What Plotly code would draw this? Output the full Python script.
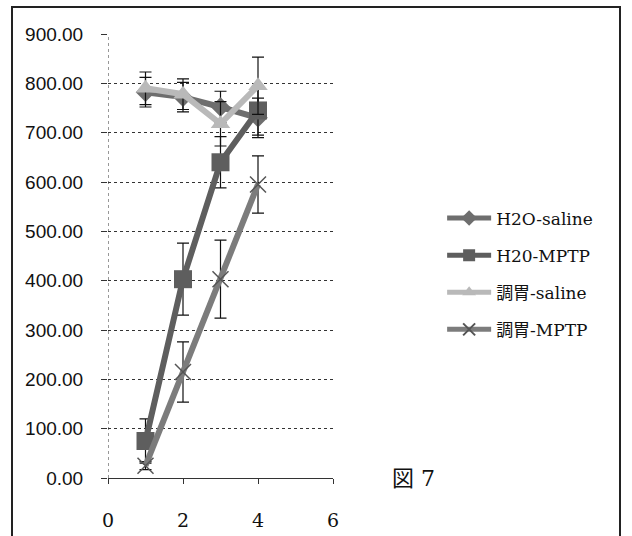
import plotly.graph_objects as go

# Days and group means / standard errors
days = [1, 2, 3, 4]

h2o_saline = [782, 772, 752, 730]
h2o_saline_err = [30, 30, 32, 40]

h2o_mptp = [75, 403, 640, 745]
h2o_mptp_err = [45, 73, 52, 50]

chouki_saline = [790, 778, 718, 795]
chouki_saline_err = [33, 31, 45, 58]

chouki_mptp = [25, 215, 403, 595]
chouki_mptp_err = [8, 61, 79, 58]

names = ["H2O-saline", "H20-MPTP", "調胃-saline", "調胃-MPTP"]
y_ticks = [0, 100, 200, 300, 400, 500, 600, 700, 800, 900]
x_ticks = [0, 2, 4, 6]

series = [
    (names[0], h2o_saline, h2o_saline_err, "#6e6e6e", "diamond", 15),
    (names[1], h2o_mptp, h2o_mptp_err, "#5e5e5e", "square", 18),
    (names[2], chouki_saline, chouki_saline_err, "#b9b9b9", "triangle-up", 17),
    (names[3], chouki_mptp, chouki_mptp_err, "#7c7c7c", "x-thin", 16),
]

fig = go.Figure()
for i, (nm, vals, errs, col, sym, sz) in enumerate(series):
    marker = dict(symbol=sym, size=sz, color=col)
    if sym == "x-thin":
        marker["line"] = dict(color="#555555", width=1.5)
    fig.add_trace(go.Scatter(
        x=days, y=vals, name=nm, mode="lines+markers",
        line=dict(color=col, width=6),
        marker=marker,
        error_y=dict(type="data", array=errs, visible=True,
                     color="#111111", thickness=1.2, width=6),
        legendgroup=f"g{i}",
    ))

grid_col = "#333333"
serif = "DejaVu Serif, Noto Sans CJK JP"
fig.update_layout(
    width=632, height=536,
    margin=dict(l=108, r=299, t=34, b=58),
    paper_bgcolor="white", plot_bgcolor="white",
    showlegend=True,
    legend=dict(
        x=1.485, y=0.625, xanchor="left", yanchor="top",
        font=dict(family=serif, size=17, color="#111111"),
        tracegroupgap=12, itemwidth=44, itemsizing="constant",
        bgcolor="rgba(0,0,0,0)",
    ),
    xaxis=dict(
        range=[0, 6], tickvals=x_ticks, showgrid=False, zeroline=False,
        showline=True, linecolor=grid_col, linewidth=1,
        ticks="outside", ticklen=5, tickcolor=grid_col,
        ticklabelstandoff=20, automargin=False,
        tickfont=dict(family="DejaVu Serif", size=19, color="#111111"),
    ),
    yaxis=dict(
        range=[0, 900], tickvals=y_ticks, tickformat=".2f",
        showgrid=True, gridcolor=grid_col, griddash="dot", gridwidth=1,
        zeroline=False, showline=False,
        ticks="outside", ticklen=6, tickcolor=grid_col,
        ticklabelstandoff=14, automargin=False,
        tickfont=dict(family="Liberation Sans", size=19, color="#111111"),
    ),
    shapes=[
        # dotted vertical axis at x = 0
        dict(type="line", xref="x", yref="y", x0=0, x1=0, y0=0, y1=900,
             line=dict(color=grid_col, width=1, dash="dot"), layer="below"),
        # outer frame
        dict(type="rect", xref="paper", yref="paper",
             x0=(12 - 108) / 225, x1=(620 - 108) / 225,
             y0=(478 - 545) / 444, y1=(478 - 7) / 444,
             line=dict(color="#222222", width=2)),
    ],
    annotations=[
        dict(text="図 7", xref="paper", yref="paper",
             x=(413 - 108) / 225, y=0.0, xanchor="center", yanchor="middle",
             showarrow=False,
             font=dict(family=serif, size=22, color="#111111")),
    ],
)

fig.write_html("out.html")
